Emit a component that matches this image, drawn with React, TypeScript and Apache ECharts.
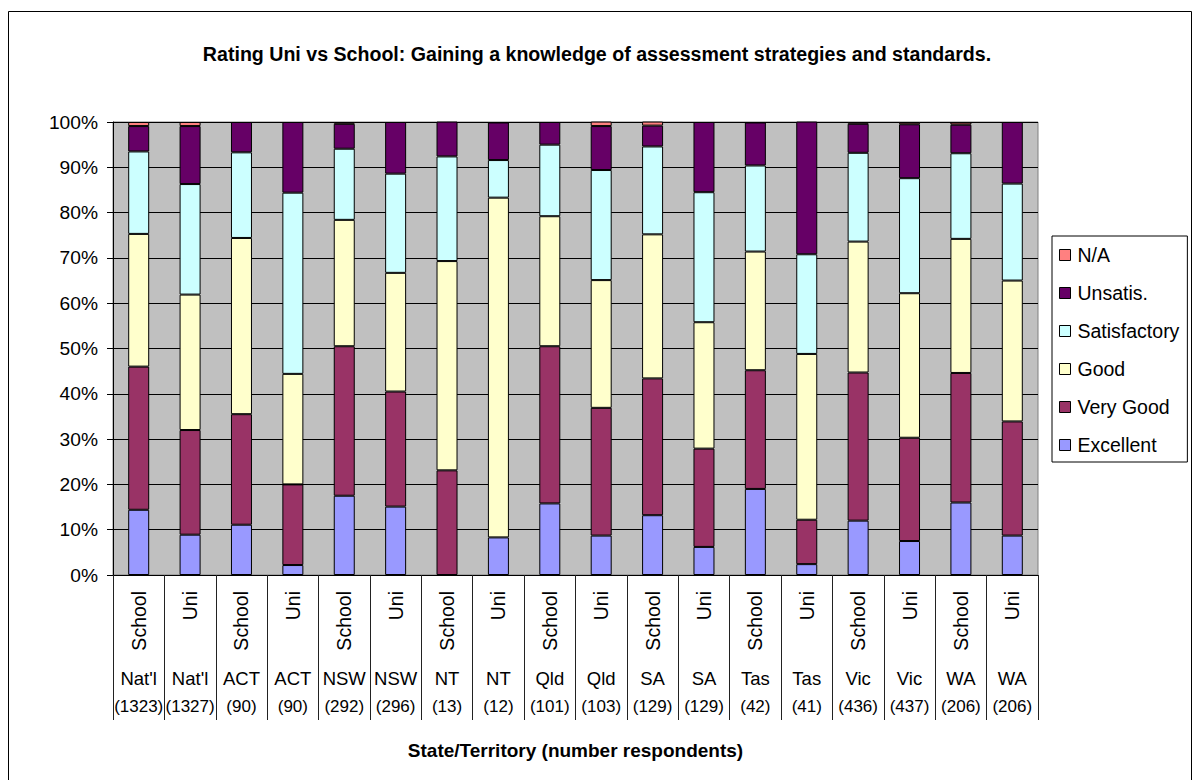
import React, { useEffect, useRef } from "react";
import * as echarts from "echarts";

const types = ["School", "Uni", "School", "Uni", "School", "Uni", "School", "Uni", "School", "Uni", "School", "Uni", "School", "Uni", "School", "Uni", "School", "Uni"];
const states = ["Nat'l", "Nat'l", "ACT", "ACT", "NSW", "NSW", "NT", "NT", "Qld", "Qld", "SA", "SA", "Tas", "Tas", "Vic", "Vic", "WA", "WA"];
const counts = ["(1323)", "(1327)", "(90)", "(90)", "(292)", "(296)", "(13)", "(12)", "(101)", "(103)", "(129)", "(129)", "(42)", "(41)", "(436)", "(437)", "(206)", "(206)"];

const excellent = [14.4, 8.9, 11.1, 2.2, 17.5, 15.1, 0, 8.3, 15.8, 8.7, 13.2, 6.2, 19.0, 2.4, 12.0, 7.5, 16.0, 8.7];
const veryGood = [31.6, 23.1, 24.4, 17.8, 33.0, 25.4, 23.1, 0, 34.7, 28.2, 30.2, 21.7, 26.2, 9.8, 32.7, 22.8, 28.6, 25.2];
const good = [29.3, 29.9, 38.9, 24.4, 27.9, 26.2, 46.2, 75.0, 28.7, 28.2, 31.8, 27.9, 26.2, 36.6, 28.9, 31.9, 29.6, 31.1];
const satisfactory = [18.2, 24.4, 18.9, 40.0, 15.7, 21.9, 23.1, 8.3, 15.8, 24.3, 19.4, 28.7, 19.0, 22.0, 19.6, 25.4, 18.9, 21.4];
const unsatis = [5.6, 12.8, 6.7, 15.6, 5.5, 11.4, 7.7, 8.3, 5.0, 9.7, 4.6, 15.5, 9.5, 29.3, 6.4, 11.9, 6.3, 13.6];
const na = [0.9, 0.9, 0, 0, 0.4, 0, 0, 0, 0, 1.0, 0.9, 0, 0, 0, 0.4, 0.5, 0.5, 0];

const yTicks = [0, 10, 20, 30, 40, 50, 60, 70, 80, 90, 100];

const seriesDefs = [
  { name: "Excellent", data: excellent, color: "#9999FF" },
  { name: "Very Good", data: veryGood, color: "#993366" },
  { name: "Good", data: good, color: "#FFFFCC" },
  { name: "Satisfactory", data: satisfactory, color: "#CCFFFF" },
  { name: "Unsatis.", data: unsatis, color: "#660066" },
  { name: "N/A", data: na, color: "#FF8080" },
];

const FONT = "'Liberation Sans', Arial, sans-serif";

export default function App() {
  const ref = useRef<HTMLDivElement>(null);
  useEffect(() => {
    if (!ref.current) return;
    const chart = echarts.init(ref.current, null, { renderer: "svg" });
    const option: any = {
      animation: false,
      backgroundColor: "#ffffff",
      textStyle: { fontFamily: FONT },
      title: {
        text: "Rating Uni vs School: Gaining a knowledge of assessment strategies and standards.",
        left: "center",
        top: 37,
        textStyle: { fontFamily: FONT, fontSize: 19.6, fontWeight: "bold", color: "#000", lineHeight: 24 },
      },
      graphic: [
        {
          type: "rect",
          shape: { x: 8.5, y: 11.5, width: 1183, height: 820 },
          style: { fill: "none", stroke: "#000", lineWidth: 1 },
          silent: true,
        },
      ],
      legend: {
        orient: "vertical",
        left: 1052,
        top: 236,
        data: ["N/A", "Unsatis.", "Satisfactory", "Good", "Very Good", "Excellent"],
        icon: "rect",
        itemWidth: 11,
        itemHeight: 11,
        itemGap: 18,
        padding: [9, 8, 7, 7],
        borderColor: "#000",
        borderWidth: 1,
        backgroundColor: "#fff",
        itemStyle: { borderColor: "#000", borderWidth: 1 },
        textStyle: { fontFamily: FONT, fontSize: 19.5, lineHeight: 19, color: "#000", padding: [0, 0, 0, 2] },
      },
      grid: {
        left: 113,
        right: 156,
        top: 122,
        bottom: 205,
        show: true,
        backgroundColor: "#C0C0C0",
        borderColor: "#808080",
        borderWidth: 1,
      },
      xAxis: [
        {
          type: "category",
          position: "bottom",
          data: types,
          axisLine: { show: true, lineStyle: { color: "#000", width: 1 } },
          axisTick: { show: true, length: 145, interval: 0, lineStyle: { color: "#222", width: 1 } },
          axisLabel: { interval: 0, rotate: 90, margin: 16, fontFamily: FONT, fontSize: 19.5, color: "#000" },
          name: "State/Territory (number respondents)",
          nameLocation: "middle",
          nameGap: 166,
          nameTextStyle: { fontFamily: FONT, fontSize: 19, fontWeight: "bold", color: "#000" },
        },
        {
          type: "category",
          position: "bottom",
          data: states,
          axisLine: { show: false },
          axisTick: { show: false },
          axisLabel: { interval: 0, margin: 93, fontFamily: FONT, fontSize: 18.5, lineHeight: 20, color: "#000" },
        },
        {
          type: "category",
          position: "bottom",
          data: counts,
          axisLine: { show: false },
          axisTick: { show: false },
          axisLabel: { interval: 0, margin: 121, fontFamily: FONT, fontSize: 17, lineHeight: 20, color: "#000" },
        },
      ],
      yAxis: {
        type: "value",
        min: yTicks[0],
        max: yTicks[yTicks.length - 1],
        interval: 10,
        axisLine: { show: true, lineStyle: { color: "#000", width: 1 } },
        axisTick: { show: true, length: 6, lineStyle: { color: "#000" } },
        axisLabel: { formatter: "{value}%", margin: 15, fontFamily: FONT, fontSize: 19.2, color: "#000" },
        splitLine: { show: true, lineStyle: { color: "#000", width: 1 } },
      },
      series: seriesDefs.map((s) => ({
        name: s.name,
        type: "bar",
        stack: "total",
        xAxisIndex: 0,
        barWidth: 21,
        data: s.data.map((v) => (v === 0 ? "-" : v)),
        itemStyle: { color: s.color, borderColor: "#000", borderWidth: 1 },
        emphasis: { disabled: true },
      })),
    };
    chart.setOption(option);
    return () => chart.dispose();
  }, []);
  return (
    <div
      ref={ref}
      style={{ position: "fixed", left: 0, top: 0, width: 1194, height: 780 }}
    />
  );
}
